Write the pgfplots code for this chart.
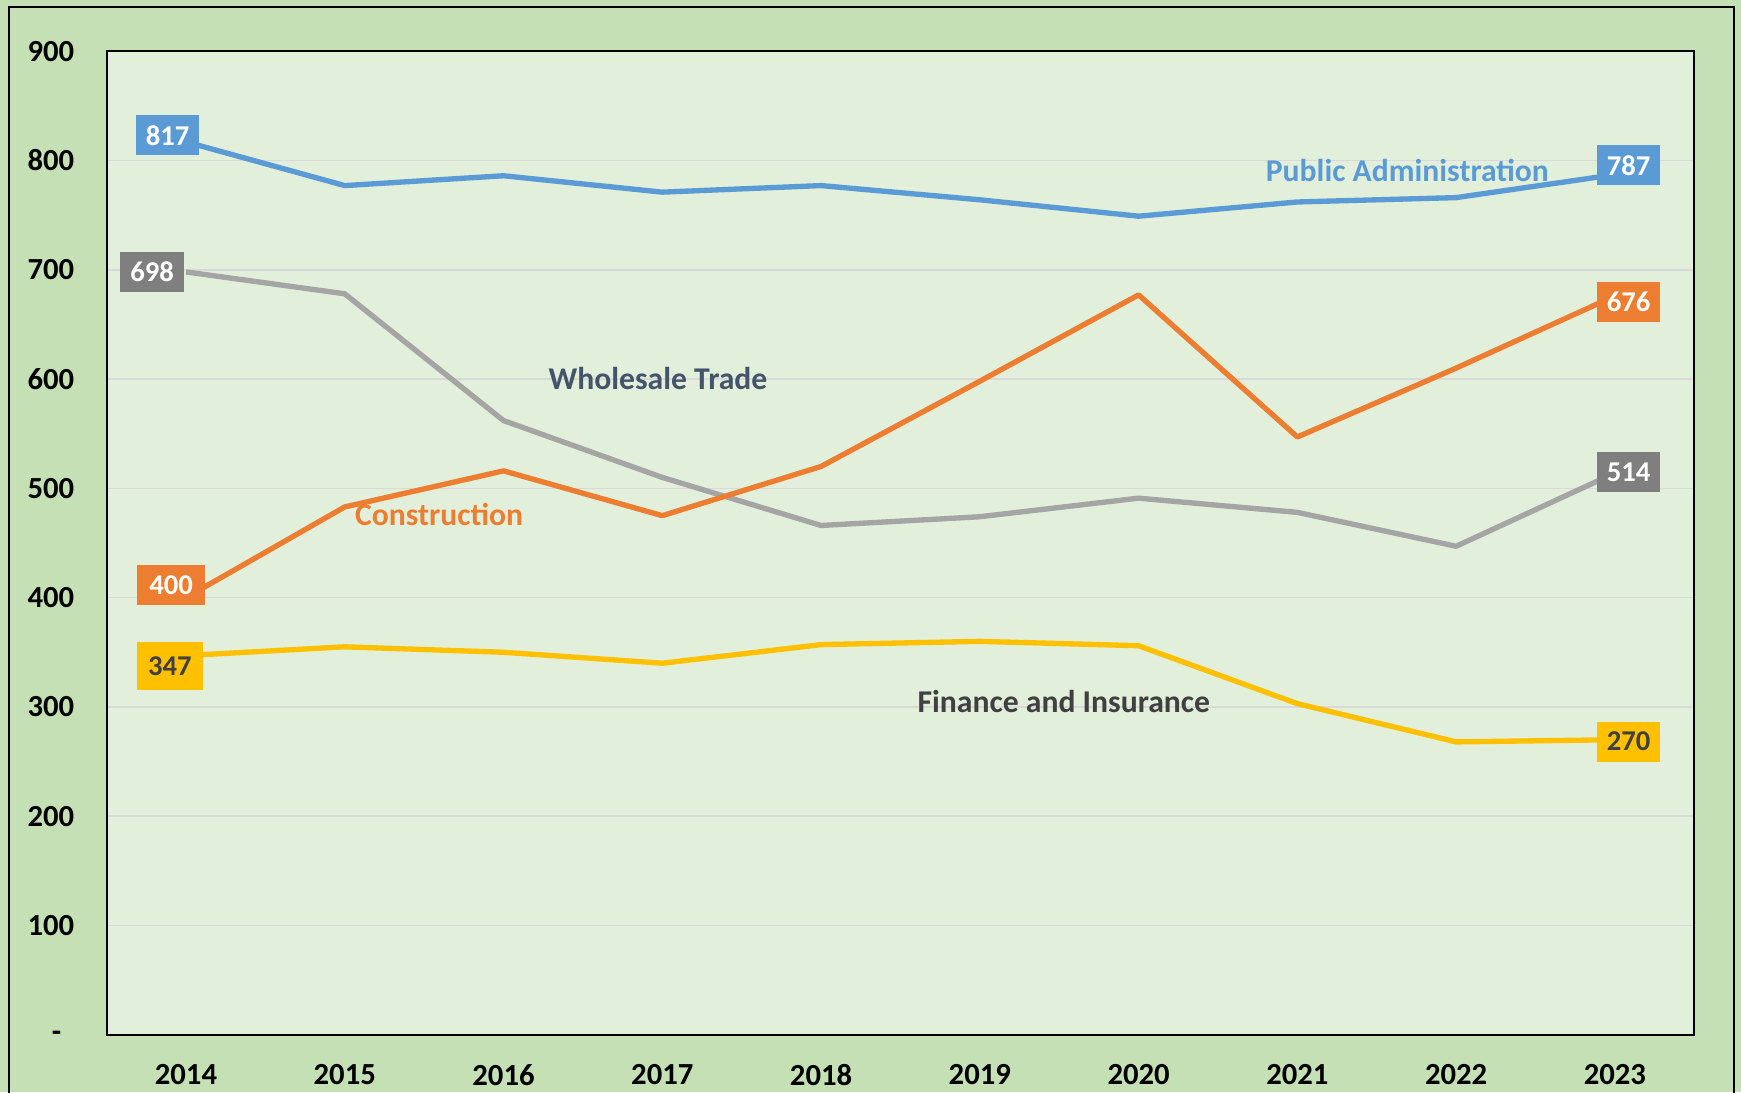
\documentclass[border=0pt]{standalone}
\usepackage{fontspec}
\setmainfont{Carlito}
\usepackage{pgfplots}
\pgfplotsset{compat=1.18}
\definecolor{outerbg}{HTML}{C5E0B4}
\definecolor{plotbg}{HTML}{E2EFDA}
\definecolor{gridc}{HTML}{D9D9D9}
\definecolor{cblue}{HTML}{5B9BD5}
\definecolor{corange}{HTML}{ED7D31}
\definecolor{cgray}{HTML}{A5A5A5}
\definecolor{cgraybox}{HTML}{7F7F7F}
\definecolor{cyellow}{HTML}{FFC000}
\definecolor{cslate}{HTML}{44546A}
\definecolor{cdark}{HTML}{404040}
\begin{document}
\begin{tikzpicture}
\fill[outerbg] (-31.98pt,-17.16pt) rectangle (490.32pt,310.44pt);
\useasboundingbox (-31.98pt,-17.16pt) rectangle (490.32pt,310.44pt);
\draw[black, line width=0.7pt] (-29.28pt,-25pt) -- (-29.28pt,308.34pt) -- (488.22pt,308.34pt) -- (488.22pt,-25pt);
\begin{axis}[
  at={(0,0)}, anchor=south west,
  scale only axis, width=476.3pt, height=295.1pt,
  xmin=-0.5, xmax=9.5, ymin=0, ymax=900,
  xtick={0,...,9},
  xticklabels={2014,2015,2016,2017,2018,2019,2020,2021,2022,2023},
  ytick={0,100,...,900},
  yticklabels={{\makebox[6.7pt][l]{\smash{\raisebox{-2pt}{-}}}},100,200,300,400,500,600,700,800,900},
  major tick length=0pt,
  axis background/.style={fill=plotbg},
  ymajorgrids,
  grid style={color=gridc, line width=0.5pt},
  axis line style={line width=0.65pt, black},
  tick label style={font=\fontsize{9.2}{10}\selectfont\bfseries, text=black},
  yticklabel style={xshift=-6.2pt},
  xticklabel style={yshift=-5.3pt},
  clip=false,
  every axis plot/.append style={line width=1.6pt, line join=round, mark=none},
]
\addplot[color=cblue] coordinates {(0,817)(1,777)(2,786)(3,771)(4,777)(5,764)(6,749)(7,762)(8,766)(9,787)};
\addplot[color=cgray] coordinates {(0,698)(1,678)(2,562)(3,510)(4,466)(5,474)(6,491)(7,478)(8,447)(9,514)};
\addplot[color=corange] coordinates {(0,400)(1,483)(2,516)(3,475)(4,520)(5,598)(6,677)(7,547)(8,610)(9,676)};
\addplot[color=cyellow] coordinates {(0,347)(1,355)(2,350)(3,340)(4,357)(5,360)(6,356)(7,303)(8,268)(9,270)};

\tikzset{dlab/.style={rectangle, inner sep=0pt, minimum width=19pt, minimum height=12pt, font=\fontsize{8.6}{9}\selectfont\bfseries}}
\node[dlab, fill=cblue, text=white] at (axis cs:-0.115,823) {817};
\node[dlab, fill=cgraybox, text=white] at (axis cs:-0.213,698) {698};
\node[dlab, fill=corange, text=white, minimum width=20.6pt] at (axis cs:-0.094,411.4) {400};
\node[dlab, fill=cyellow, text=cdark, minimum width=19.6pt, minimum height=14.3pt] at (axis cs:-0.101,337.3) {347};
\node[dlab, fill=cblue, text=white] at (axis cs:9.087,795.4) {787};
\node[dlab, fill=corange, text=white] at (axis cs:9.087,670.5) {676};
\node[dlab, fill=cgraybox, text=white] at (axis cs:9.087,515) {514};
\node[dlab, fill=cyellow, text=cdark] at (axis cs:9.087,268.2) {270};

\tikzset{slab/.style={inner sep=0pt, font=\fontsize{9.5}{11}\selectfont\bfseries}}
\node[slab, text=cblue] at (axis cs:7.693,791) {Public Administration};
\node[slab, text=cslate] at (axis cs:2.973,600.4) {Wholesale Trade};
\node[slab, text=corange] at (axis cs:1.594,476.4) {Construction};
\node[slab, text=cdark] at (axis cs:5.529,304.8) {Finance and Insurance};
\end{axis}
\end{tikzpicture}
\end{document}
